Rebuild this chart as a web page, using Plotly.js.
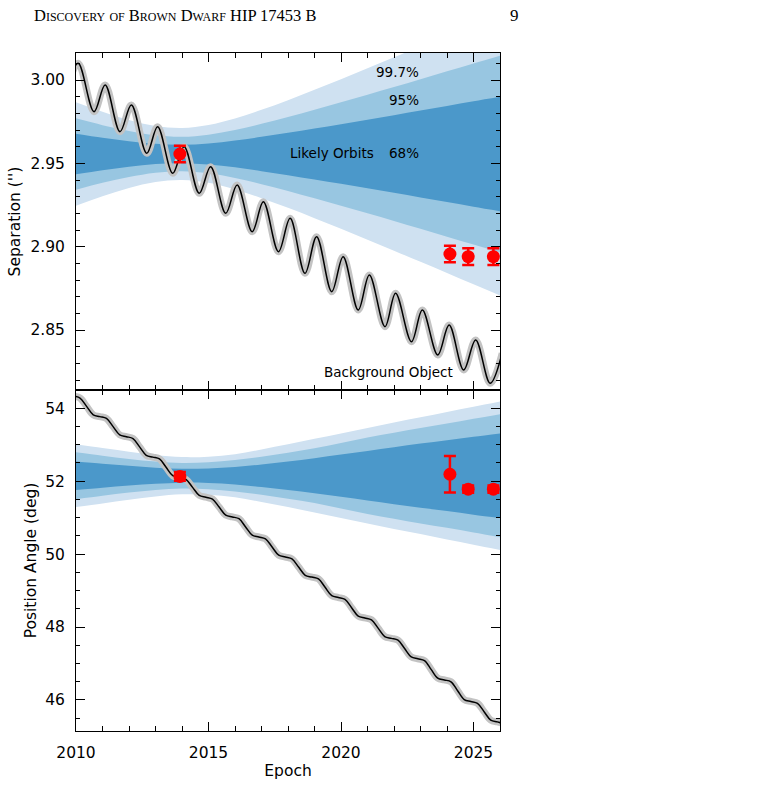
<!DOCTYPE html>
<html><head><meta charset="utf-8">
<script src="https://cdn.plot.ly/plotly-3.0.1.min.js"></script>
<style>html,body{margin:0;padding:0;background:#fff}</style>
</head><body><div id="chart" style="width:770px;height:786px"></div>
<script>
// ---- data ----
const bandEpochs = [2010,2011,2012,2013,2014,2015,2016,2017,2018,2019,2020,2021,2022,2023,2024,2025,2026];

// Separation: likely-orbit envelopes (arcsec)
const sep68Hi  = [2.9678,2.9654,2.9633,2.9617,2.9611,2.9619,2.9637,2.9659,2.9683,2.9709,2.9735,2.9762,2.9789,2.9817,2.9844,2.9872,2.9899];
const sep68Lo  = [2.9434,2.9458,2.9480,2.9496,2.9501,2.9493,2.9476,2.9453,2.9429,2.9403,2.9377,2.9350,2.9323,2.9295,2.9268,2.9240,2.9213];
const sep95Hi  = [2.9770,2.9729,2.9694,2.9668,2.9659,2.9672,2.9700,2.9737,2.9778,2.9822,2.9866,2.9912,2.9958,3.0005,3.0052,3.0099,3.0146];
const sep95Lo  = [2.9342,2.9383,2.9418,2.9444,2.9453,2.9440,2.9412,2.9375,2.9334,2.9290,2.9246,2.9200,2.9154,2.9107,2.9060,2.9013,2.8966];
const sep997Hi = [2.9867,2.9810,2.9760,2.9724,2.9712,2.9730,2.9769,2.9821,2.9879,2.9941,3.0005,3.0070,3.0136,3.0203,3.0270,3.0338,3.0405];
const sep997Lo = [2.9245,2.9302,2.9352,2.9388,2.9400,2.9383,2.9343,2.9291,2.9233,2.9171,2.9107,2.9042,2.8976,2.8909,2.8842,2.8774,2.8707];

// Position angle: likely-orbit envelopes (deg)
const pa68Hi  = [52.54,52.48,52.42,52.37,52.34,52.35,52.39,52.46,52.54,52.63,52.73,52.83,52.93,53.03,53.12,53.22,53.31];
const pa68Lo  = [51.76,51.82,51.88,51.93,51.96,51.95,51.91,51.84,51.76,51.67,51.57,51.47,51.37,51.27,51.18,51.08,50.99];
const pa95Hi  = [52.795,52.70,52.61,52.54,52.50,52.52,52.58,52.67,52.78,52.90,53.05,53.20,53.33,53.46,53.58,53.71,53.835];
const pa95Lo  = [51.505,51.60,51.69,51.76,51.80,51.78,51.72,51.63,51.52,51.40,51.25,51.10,50.97,50.84,50.72,50.59,50.465];
const pa997Hi = [53.01,52.91,52.81,52.72,52.66,52.67,52.74,52.87,53.01,53.16,53.31,53.46,53.61,53.75,53.90,54.04,54.185];
const pa997Lo = [51.29,51.39,51.49,51.58,51.64,51.63,51.56,51.43,51.29,51.14,50.99,50.84,50.69,50.55,50.40,50.26,50.115];

// Background-object track, separation (peaks and troughs)
const bgSepEpoch = [2009.65,2010.08,2010.68,2011.10,2011.66,2012.09,2012.67,2013.08,2013.65,2014.08,2014.65,2015.08,2015.65,2016.08,2016.65,2017.07,2017.64,2018.08,2018.64,2019.08,2019.65,2020.08,2020.65,2021.07,2021.66,2022.06,2022.66,2023.07,2023.65,2024.08,2024.63,2025.08,2025.63,2026.08];
const bgSep      = [2.994,3.010,2.981,2.997,2.969,2.985,2.956,2.972,2.944,2.960,2.932,2.948,2.920,2.937,2.909,2.927,2.897,2.917,2.884,2.906,2.873,2.894,2.862,2.883,2.852,2.872,2.843,2.862,2.835,2.853,2.826,2.844,2.818,2.836];

// Background-object track, position angle
const bgPAEpoch = [2009.90,2010.15,2010.40,2010.65,2010.90,2011.15,2011.40,2011.65,2011.90,2012.15,2012.40,2012.65,2012.90,2013.15,2013.40,2013.65,2013.90,2014.15,2014.40,2014.65,2014.90,2015.15,2015.40,2015.65,2015.90,2016.15,2016.40,2016.65,2016.90,2017.15,2017.40,2017.65,2017.90,2018.15,2018.40,2018.65,2018.90,2019.15,2019.40,2019.65,2019.90,2020.15,2020.40,2020.65,2020.90,2021.15,2021.40,2021.65,2021.90,2022.15,2022.40,2022.65,2022.90,2023.15,2023.40,2023.65,2023.90,2024.15,2024.40,2024.65,2024.90,2025.15,2025.40,2025.65,2025.90,2026.15];
const bgPA      = [54.33,54.28,54.05,53.82,53.77,53.72,53.495,53.27,53.22,53.17,52.94,52.71,52.66,52.61,52.38,52.15,52.10,52.05,51.83,51.61,51.56,51.51,51.29,51.07,51.02,50.97,50.745,50.52,50.47,50.42,50.195,49.97,49.92,49.87,49.645,49.42,49.37,49.32,49.09,48.86,48.81,48.76,48.53,48.30,48.25,48.20,47.97,47.74,47.69,47.64,47.41,47.18,47.13,47.08,46.84,46.60,46.55,46.50,46.255,46.01,45.96,45.91,45.68,45.45,45.40,45.35];

// Measured astrometry
const obsEpoch  = [2013.92, 2024.11, 2024.80, 2025.75];
const obsSep    = [2.9556, 2.8956, 2.8940, 2.8940];
const obsSepErr = [0.005, 0.005, 0.005, 0.005];
const obsPA     = [52.13, 52.19, 51.78, 51.78];
const obsPAErr  = [0.12, 0.50, 0.10, 0.10];

// ---- drawing ----
const C997 = '#cfe1f1', C95 = '#98c6e1', C68 = '#4b98ca';
const FONT = 'DejaVu Sans, sans-serif';

function band(lo, hi, color, xa, ya) {
  return [
    {x: bandEpochs, y: lo, mode: 'lines', line: {width: 0, shape: 'spline'}, hoverinfo: 'skip', showlegend: false, xaxis: xa, yaxis: ya},
    {x: bandEpochs, y: hi, mode: 'lines', line: {width: 0, shape: 'spline'}, fill: 'tonexty', fillcolor: color, hoverinfo: 'skip', showlegend: false, xaxis: xa, yaxis: ya}
  ];
}
function track(x, y, xa, ya) {
  return [
    {x: x, y: y, mode: 'lines', line: {color: '#c3c3c3', width: 7, shape: 'spline'}, showlegend: false, xaxis: xa, yaxis: ya},
    {x: x, y: y, mode: 'lines', line: {color: '#000', width: 1.5, shape: 'spline'}, showlegend: false, xaxis: xa, yaxis: ya}
  ];
}
function obs(y, err, xa, ya) {
  return {x: obsEpoch, y: y, mode: 'markers', marker: {color: '#ff0000', size: 13},
    error_y: {type: 'data', array: err, color: '#ff0000', thickness: 2.5, width: 6},
    showlegend: false, xaxis: xa, yaxis: ya};
}

const traces = [].concat(
  band(sep997Lo, sep997Hi, C997, 'x2', 'y'),
  band(sep95Lo, sep95Hi, C95, 'x2', 'y'),
  band(sep68Lo, sep68Hi, C68, 'x2', 'y'),
  track(bgSepEpoch, bgSep, 'x2', 'y'),
  [obs(obsSep, obsSepErr, 'x2', 'y')],
  band(pa997Lo, pa997Hi, C997, 'x', 'y2'),
  band(pa95Lo, pa95Hi, C95, 'x', 'y2'),
  band(pa68Lo, pa68Hi, C68, 'x', 'y2'),
  track(bgPAEpoch, bgPA, 'x', 'y2'),
  [obs(obsPA, obsPAErr, 'x', 'y2')]
);

const tickFont = {family: FONT, size: 15.5, color: '#000'};
const common = {
  ticks: 'inside', ticklen: 9, tickwidth: 1, tickcolor: '#000',
  showline: true, linecolor: '#000', linewidth: 1, mirror: 'allticks',
  showgrid: false, zeroline: false, tickfont: tickFont, ticklabelstandoff: 7
};
const split = 0.50295;

const layout = {
  width: 770, height: 786,
  margin: {l: 76, r: 270, t: 53, b: 55},
  paper_bgcolor: '#fff', plot_bgcolor: '#fff',
  showlegend: false,
  xaxis: Object.assign({}, common, {
    domain: [0, 1], anchor: 'y2', range: [2010, 2026], tick0: 2010, dtick: 5,
    minor: {dtick: 1, ticks: 'inside', ticklen: 5, tickcolor: '#000'},
    title: {text: 'Epoch', font: {family: FONT, size: 15.5, color: '#000'}, standoff: 4}
  }),
  xaxis2: Object.assign({}, common, {
    domain: [0, 1], anchor: 'y', range: [2010, 2026], tick0: 2010, dtick: 5, showticklabels: false,
    minor: {dtick: 1, ticks: 'inside', ticklen: 5, tickcolor: '#000'}
  }),
  yaxis: Object.assign({}, common, {
    domain: [split, 1], anchor: 'x2', range: [2.814, 3.0162], tick0: 2.85, dtick: 0.05, tickformat: '.2f',
    minor: {dtick: 0.01, ticks: 'inside', ticklen: 4, tickcolor: '#000'},
    title: {text: "Separation ('')", font: {family: FONT, size: 15.5, color: '#000'}, standoff: 5}
  }),
  yaxis2: Object.assign({}, common, {
    domain: [0, split], anchor: 'x', range: [45.15, 54.5], tick0: 0, dtick: 2,
    minor: {dtick: 0.5, ticks: 'inside', ticklen: 4, tickcolor: '#000'},
    title: {text: 'Position Angle (deg)', font: {family: FONT, size: 15.5, color: '#000'}, standoff: 4}
  }),
  annotations: [
    {xref: 'paper', yref: 'paper', x: -0.1045, y: 1.0555, xanchor: 'left', yanchor: 'middle', showarrow: false,
     text: 'Discovery of Brown Dwarf HIP 17453 B',
     font: {family: 'Liberation Serif, serif', size: 16.5, color: '#000', variant: 'small-caps'}},
    {xref: 'paper', yref: 'paper', x: 1.035, y: 1.0555, xanchor: 'center', yanchor: 'middle', showarrow: false,
     text: '9', font: {family: 'Liberation Serif, serif', size: 17, color: '#000'}},
    {xref: 'x2', yref: 'y', x: 2023.02, y: 3.0048, xanchor: 'right', yanchor: 'middle', showarrow: false,
     text: '99.7%', font: {family: FONT, size: 13.5, color: '#000'}},
    {xref: 'x2', yref: 'y', x: 2023.02, y: 2.988, xanchor: 'right', yanchor: 'middle', showarrow: false,
     text: '95%', font: {family: FONT, size: 13.5, color: '#000'}},
    {xref: 'x2', yref: 'y', x: 2023.02, y: 2.956, xanchor: 'right', yanchor: 'middle', showarrow: false,
     text: '68%', font: {family: FONT, size: 13.5, color: '#000'}},
    {xref: 'x2', yref: 'y', x: 2021.32, y: 2.956, xanchor: 'right', yanchor: 'middle', showarrow: false,
     text: 'Likely Orbits', font: {family: FONT, size: 13.5, color: '#000'}},
    {xref: 'x2', yref: 'y', x: 2024.30, y: 2.8246, xanchor: 'right', yanchor: 'middle', showarrow: false,
     text: 'Background Object', font: {family: FONT, size: 13.5, color: '#000'}}
  ]
};

Plotly.newPlot('chart', traces, layout, {staticPlot: true, displayModeBar: false});
</script></body></html>
